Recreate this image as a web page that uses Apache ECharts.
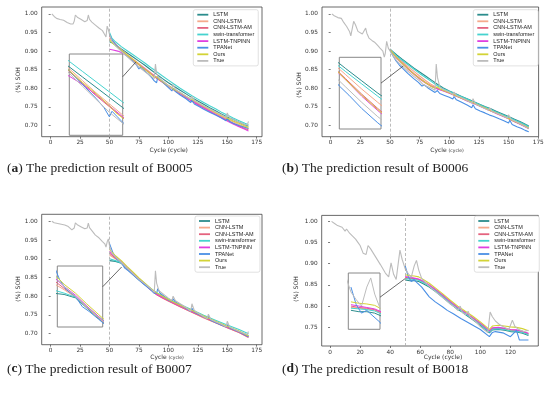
<!DOCTYPE html>
<html><head><meta charset="utf-8">
<script src="https://cdn.jsdelivr.net/npm/echarts@6/dist/echarts.min.js"></script>
<style>html,body{margin:0;padding:0;background:#fff}#c{width:550px;height:394px}</style>
</head><body><div id="c"></div>
<script>
// ---------- names / ticks ----------
const seriesNames = ['LSTM','CNN-LSTM','CNN-LSTM-AM','swin-transformer','LSTM-TNPINN','TPANet','Ours','True'];
const xTicksLong = [0,25,50,75,100,125,150,175];
const xTicksShort = [0,20,40,60,80,100,120];
const yTicksMain = [0.70,0.75,0.80,0.85,0.90,0.95,1.00];
const yTicksD = [0.75,0.80,0.85,0.90,0.95,1.00];
const splitCycle = 50;
const captions = ['The prediction result of B0005','The prediction result of B0006','The prediction result of B0007','The prediction result of B0018'];

// ---------- B0005 ----------
const a_LSTM = [[50,0.925],[53,0.921],[56,0.915],[60,0.906],[65,0.895],[70,0.884],[75,0.873],[80,0.862],[85,0.85],[90,0.838],[95,0.826],[100,0.815],[105,0.805],[110,0.795],[115,0.785],[120,0.775],[125,0.766],[130,0.757],[135,0.748],[140,0.74],[145,0.731],[150,0.723],[155,0.716],[160,0.709],[165,0.702],[168,0.698]];
const a_CNN = [[50,0.935],[53,0.925],[56,0.916],[60,0.904],[65,0.891],[70,0.878],[75,0.866],[80,0.854],[85,0.842],[90,0.83],[95,0.819],[100,0.808],[105,0.798],[110,0.788],[115,0.778],[120,0.768],[125,0.759],[130,0.75],[135,0.741],[140,0.733],[145,0.725],[150,0.717],[155,0.71],[160,0.703],[165,0.696],[168,0.692]];
const a_AM = [[50,0.94],[53,0.926],[56,0.914],[60,0.901],[65,0.888],[70,0.875],[75,0.863],[80,0.851],[85,0.839],[90,0.827],[95,0.816],[100,0.805],[105,0.795],[110,0.785],[115,0.775],[120,0.765],[125,0.756],[130,0.747],[135,0.738],[140,0.73],[145,0.722],[150,0.714],[155,0.706],[160,0.699],[165,0.692],[168,0.688]];
const a_swin = [[50,0.95],[52,0.935],[55,0.925],[60,0.912],[65,0.901],[70,0.89],[75,0.879],[80,0.868],[85,0.856],[90,0.845],[95,0.833],[100,0.822],[105,0.811],[110,0.8],[115,0.79],[120,0.78],[125,0.771],[130,0.762],[135,0.753],[140,0.745],[145,0.736],[150,0.728],[155,0.72],[160,0.713],[165,0.706],[168,0.702]];
const a_TNPINN = [[50,0.905],[53,0.903],[57,0.9],[60,0.896],[65,0.887],[70,0.876],[75,0.864],[80,0.852],[85,0.84],[90,0.828],[95,0.817],[100,0.806],[105,0.796],[110,0.786],[115,0.776],[120,0.766],[125,0.757],[130,0.748],[135,0.739],[140,0.73],[145,0.721],[150,0.712],[155,0.704],[160,0.697],[165,0.69],[168,0.685]];
const a_TPA = [[50,0.945],[52,0.93],[55,0.918],[58,0.908],[62,0.896],[66,0.884],[70,0.872],[73,0.862],[75,0.852],[76,0.858],[78,0.852],[80,0.846],[83,0.838],[86,0.828],[88,0.82],[90,0.815],[91,0.832],[93,0.824],[96,0.814],[100,0.802],[103,0.793],[104,0.8],[106,0.791],[110,0.782],[115,0.772],[119,0.762],[120,0.768],[122,0.758],[126,0.751],[130,0.744],[135,0.736],[140,0.728],[145,0.72],[149,0.713],[150,0.72],[152,0.711],[156,0.705],[160,0.7],[164,0.696],[168,0.692]];
const a_Ours = [[50,0.93],[53,0.92],[56,0.912],[60,0.902],[65,0.889],[70,0.877],[75,0.864],[78,0.855],[80,0.851],[85,0.839],[88,0.83],[90,0.831],[92,0.825],[95,0.818],[100,0.807],[105,0.797],[110,0.788],[115,0.778],[120,0.77],[125,0.761],[130,0.752],[135,0.744],[140,0.735],[145,0.727],[150,0.72],[155,0.712],[160,0.706],[165,0.699],[168,0.695]];
const a_True = [[1,1.0],[3,0.993],[5,0.988],[8,0.985],[11,0.983],[14,0.977],[17,0.973],[19,0.973],[20,0.98],[21,0.997],[23,0.99],[26,0.985],[29,0.979],[31,0.982],[32,0.997],[33,0.985],[35,0.978],[38,0.97],[41,0.962],[44,0.955],[46,0.944],[47,0.938],[48,0.967],[49,0.958],[50,0.945],[52,0.927],[55,0.915],[60,0.899],[65,0.885],[70,0.871],[75,0.857],[80,0.845],[85,0.833],[88,0.826],[89,0.865],[90,0.84],[92,0.828],[96,0.818],[100,0.807],[103,0.798],[104,0.81],[106,0.797],[110,0.789],[115,0.779],[119,0.77],[120,0.779],[122,0.767],[125,0.762],[130,0.753],[135,0.745],[140,0.737],[145,0.729],[149,0.722],[150,0.734],[152,0.72],[155,0.716],[160,0.709],[165,0.703],[167,0.701],[168,0.711]];

// ---------- B0006 ----------
const b_LSTM = [[50,0.905],[53,0.897],[56,0.889],[60,0.879],[65,0.867],[70,0.855],[75,0.844],[80,0.833],[85,0.822],[90,0.811],[95,0.801],[100,0.793],[105,0.786],[110,0.779],[115,0.772],[120,0.765],[125,0.758],[130,0.751],[135,0.745],[140,0.738],[145,0.731],[150,0.724],[155,0.717],[160,0.71],[165,0.702],[167,0.699]];
const b_CNN = [[50,0.905],[53,0.894],[56,0.884],[60,0.873],[65,0.859],[70,0.846],[75,0.833],[80,0.821],[85,0.81],[90,0.801],[95,0.795],[100,0.789],[105,0.782],[110,0.775],[115,0.768],[120,0.762],[125,0.755],[130,0.748],[135,0.741],[140,0.734],[145,0.727],[150,0.72],[155,0.713],[160,0.706],[165,0.698],[167,0.695]];
const b_AM = [[50,0.905],[53,0.892],[56,0.881],[60,0.869],[65,0.854],[70,0.84],[75,0.827],[80,0.816],[85,0.806],[90,0.799],[95,0.794],[100,0.788],[105,0.781],[110,0.774],[115,0.767],[120,0.761],[125,0.754],[130,0.747],[135,0.74],[140,0.733],[145,0.726],[150,0.719],[155,0.711],[160,0.704],[165,0.696],[167,0.692]];
const b_swin = [[50,0.905],[53,0.895],[56,0.886],[60,0.876],[65,0.864],[70,0.852],[75,0.84],[80,0.829],[85,0.818],[90,0.807],[95,0.799],[100,0.792],[105,0.785],[110,0.778],[115,0.771],[120,0.764],[125,0.757],[130,0.75],[135,0.743],[140,0.736],[145,0.729],[150,0.722],[155,0.715],[160,0.708],[165,0.7],[167,0.697]];
const b_TNPINN = [[50,0.905],[53,0.891],[56,0.88],[60,0.868],[65,0.852],[70,0.838],[75,0.825],[80,0.814],[85,0.805],[90,0.798],[95,0.793],[100,0.787],[105,0.78],[110,0.773],[115,0.766],[120,0.76],[125,0.753],[130,0.746],[135,0.739],[140,0.732],[145,0.725],[150,0.718],[155,0.71],[160,0.703],[165,0.695],[167,0.691]];
const b_TPA = [[50,0.905],[52,0.89],[55,0.874],[58,0.862],[61,0.853],[65,0.84],[70,0.826],[74,0.816],[77,0.806],[79,0.809],[82,0.801],[85,0.795],[88,0.789],[90,0.794],[92,0.786],[96,0.781],[100,0.776],[103,0.771],[104,0.778],[106,0.769],[110,0.763],[115,0.755],[119,0.748],[120,0.756],[122,0.745],[126,0.739],[130,0.734],[134,0.728],[135,0.733],[137,0.725],[142,0.718],[146,0.713],[150,0.707],[151,0.714],[153,0.703],[157,0.697],[161,0.692],[164,0.687],[167,0.683]];
const b_Ours = [[50,0.905],[53,0.892],[56,0.881],[60,0.868],[65,0.853],[70,0.839],[75,0.826],[80,0.815],[85,0.805],[88,0.8],[90,0.804],[92,0.798],[95,0.794],[100,0.788],[105,0.781],[110,0.774],[115,0.767],[120,0.761],[125,0.754],[130,0.747],[135,0.74],[140,0.733],[145,0.726],[150,0.719],[155,0.711],[160,0.704],[165,0.696],[167,0.693]];
const b_True = [[1,1.0],[3,0.995],[6,0.99],[9,0.988],[11,0.977],[13.5,0.966],[16,0.952],[17,0.941],[18,0.945],[19.4,0.98],[21,0.97],[23,0.953],[26.7,0.946],[29.5,0.962],[30.5,0.948],[32.3,0.935],[35,0.928],[37.4,0.923],[40,0.914],[41.6,0.908],[44,0.9],[45.2,0.884],[46,0.893],[47.2,0.926],[48.6,0.908],[50,0.904],[53,0.885],[56,0.873],[60,0.861],[65,0.846],[70,0.832],[75,0.82],[78,0.81],[80,0.807],[85,0.8],[88,0.795],[89,0.865],[90,0.83],[92,0.803],[95,0.797],[100,0.79],[103,0.783],[104,0.79],[106,0.781],[110,0.775],[115,0.767],[119,0.76],[120,0.772],[122,0.758],[125,0.753],[130,0.746],[133,0.741],[134,0.748],[136,0.738],[140,0.733],[145,0.726],[149,0.72],[150,0.729],[152,0.717],[155,0.712],[160,0.704],[165,0.695],[167,0.692]];

// ---------- B0007 ----------
const c_LSTM = [[50,0.895],[55,0.893],[60,0.888],[65,0.873],[70,0.858],[75,0.844],[80,0.831],[85,0.818],[90,0.806],[95,0.798],[100,0.79],[110,0.775],[120,0.76],[130,0.745],[140,0.731],[150,0.718],[160,0.706],[168,0.695]];
const c_CNN = [[50,0.91],[55,0.9],[60,0.889],[65,0.874],[70,0.859],[75,0.845],[80,0.832],[85,0.818],[90,0.805],[95,0.795],[100,0.787],[110,0.772],[120,0.757],[130,0.742],[140,0.729],[150,0.716],[160,0.703],[168,0.691]];
const c_AM = [[50,0.915],[55,0.902],[60,0.89],[65,0.875],[70,0.86],[75,0.845],[80,0.831],[85,0.817],[90,0.804],[95,0.795],[100,0.787],[110,0.772],[120,0.757],[130,0.743],[140,0.729],[150,0.716],[160,0.703],[168,0.69]];
const c_swin = [[50,0.9],[55,0.895],[60,0.889],[65,0.875],[70,0.861],[75,0.847],[80,0.834],[85,0.821],[90,0.809],[95,0.801],[100,0.793],[110,0.778],[120,0.764],[130,0.749],[140,0.736],[150,0.723],[160,0.711],[168,0.7]];
const c_TNPINN = [[50,0.92],[55,0.905],[60,0.892],[65,0.876],[70,0.861],[75,0.846],[80,0.832],[85,0.818],[90,0.806],[95,0.797],[100,0.789],[110,0.774],[120,0.759],[130,0.745],[140,0.731],[150,0.718],[160,0.705],[168,0.692]];
const c_TPA = [[50,0.94],[53,0.915],[56,0.9],[60,0.89],[63,0.875],[66,0.868],[70,0.857],[75,0.843],[80,0.83],[85,0.817],[88,0.808],[90,0.808],[91,0.82],[93,0.808],[97,0.798],[100,0.79],[103,0.786],[104,0.793],[106,0.785],[110,0.777],[119,0.76],[120,0.768],[122,0.757],[130,0.745],[133,0.74],[134,0.746],[136,0.736],[140,0.73],[149,0.718],[150,0.724],[152,0.715],[160,0.705],[168,0.692]];
const c_Ours = [[50,0.925],[55,0.908],[60,0.895],[65,0.879],[70,0.864],[75,0.849],[80,0.835],[85,0.821],[90,0.809],[95,0.8],[100,0.791],[110,0.776],[120,0.762],[130,0.747],[140,0.733],[150,0.72],[160,0.707],[168,0.694]];
const c_True = [[1,1.0],[3,0.996],[6,0.994],[9,0.992],[12,0.99],[15,0.986],[18,0.977],[19,0.977],[20,0.982],[21,0.996],[23,0.99],[26,0.985],[29,0.98],[31,0.982],[32,0.995],[33,0.983],[35,0.975],[38,0.963],[41,0.956],[44,0.946],[46,0.94],[47,0.931],[48,0.945],[49,0.953],[50,0.935],[52,0.915],[55,0.905],[60,0.89],[65,0.875],[70,0.86],[75,0.845],[80,0.833],[85,0.82],[88,0.81],[89,0.868],[90,0.835],[92,0.815],[96,0.805],[100,0.795],[103,0.789],[104,0.8],[106,0.788],[110,0.78],[115,0.77],[119,0.76],[120,0.78],[122,0.762],[125,0.755],[130,0.745],[133,0.74],[134,0.752],[136,0.738],[140,0.732],[145,0.725],[149,0.718],[150,0.733],[152,0.718],[155,0.713],[160,0.706],[165,0.7],[167,0.698],[168,0.706]];

// ---------- B0018 ----------
const d_LSTM = [[50,0.862],[53,0.86],[56,0.86],[59,0.858],[62,0.853],[66,0.845],[70,0.835],[75,0.821],[80,0.806],[85,0.792],[88,0.786],[90,0.78],[95,0.768],[100,0.755],[104,0.743],[106,0.737],[108,0.744],[112,0.745],[116,0.743],[120,0.74],[124,0.739],[128,0.736],[132,0.731]];
const d_CNN = [[50,0.866],[53,0.865],[56,0.864],[59,0.862],[62,0.857],[66,0.848],[70,0.838],[75,0.824],[80,0.809],[85,0.795],[88,0.789],[90,0.783],[95,0.771],[100,0.758],[104,0.746],[106,0.74],[108,0.747],[112,0.748],[116,0.746],[120,0.743],[124,0.742],[128,0.739],[132,0.734]];
const d_AM = [[50,0.868],[53,0.866],[56,0.865],[59,0.863],[62,0.858],[66,0.849],[70,0.839],[75,0.825],[80,0.81],[85,0.796],[88,0.79],[90,0.784],[95,0.772],[100,0.759],[104,0.747],[106,0.741],[108,0.748],[112,0.749],[116,0.747],[120,0.744],[124,0.743],[128,0.74],[132,0.735]];
const d_swin = [[50,0.865],[53,0.864],[56,0.863],[59,0.861],[62,0.856],[66,0.847],[70,0.837],[75,0.823],[80,0.808],[85,0.794],[88,0.788],[90,0.782],[95,0.77],[100,0.757],[104,0.745],[106,0.739],[108,0.746],[112,0.747],[116,0.745],[120,0.742],[124,0.741],[128,0.738],[132,0.733]];
const d_TNPINN = [[50,0.87],[53,0.868],[56,0.866],[59,0.864],[62,0.859],[66,0.85],[70,0.84],[75,0.826],[80,0.811],[85,0.797],[88,0.79],[90,0.785],[95,0.773],[100,0.76],[104,0.748],[106,0.742],[108,0.749],[112,0.75],[116,0.748],[120,0.745],[124,0.744],[128,0.741],[132,0.736]];
const d_TPA = [[50,0.895],[52,0.87],[54,0.858],[56,0.862],[58,0.855],[61,0.845],[66,0.822],[70,0.81],[75,0.798],[78,0.79],[82,0.782],[87,0.771],[90,0.765],[95,0.755],[100,0.745],[106,0.728],[108,0.738],[110,0.74],[115,0.737],[120,0.728],[124,0.743],[126,0.72],[130,0.72],[132,0.72]];
const d_Ours = [[50,0.874],[53,0.872],[56,0.871],[59,0.869],[62,0.863],[66,0.854],[70,0.843],[75,0.829],[80,0.814],[85,0.8],[88,0.793],[90,0.788],[95,0.776],[100,0.763],[104,0.751],[106,0.745],[108,0.753],[112,0.755],[116,0.753],[120,0.751],[124,0.75],[128,0.747],[132,0.742]];
const d_True = [[1,1.0],[3,0.995],[5,0.99],[8,0.986],[10,0.977],[11,0.982],[13,0.972],[15,0.965],[17,0.958],[19,0.948],[20,0.943],[22,0.925],[24,0.922],[25.3,0.943],[27,0.935],[30,0.918],[33.5,0.898],[36.8,0.878],[39,0.869],[40.6,0.902],[42.3,0.875],[44,0.863],[46.5,0.932],[48,0.91],[50,0.888],[52,0.877],[54,0.868],[56,0.895],[57.5,0.908],[59,0.885],[61,0.865],[65,0.85],[70,0.835],[75,0.82],[80,0.805],[83,0.798],[85,0.79],[86.6,0.8],[88,0.785],[90,0.78],[91.9,0.788],[93,0.775],[97,0.763],[100,0.752],[103,0.743],[105,0.738],[106.5,0.786],[108,0.775],[110,0.765],[113,0.756],[116,0.75],[119,0.745],[121.3,0.767],[123,0.752],[126,0.744],[129,0.74],[132,0.743]];

// ---------- styles / layout ----------
const colors = ['#2b8c8c','#f5a98c','#e4637f','#46d3cf','#e03fe0','#4a8fe5','#d3d336','#bcbcbc'];
const panelData = [
  [a_LSTM,a_CNN,a_AM,a_swin,a_TNPINN,a_TPA,a_Ours,a_True],
  [b_LSTM,b_CNN,b_AM,b_swin,b_TNPINN,b_TPA,b_Ours,b_True],
  [c_LSTM,c_CNN,c_AM,c_swin,c_TNPINN,c_TPA,c_Ours,c_True],
  [d_LSTM,d_CNN,d_AM,d_swin,d_TNPINN,d_TPA,d_Ours,d_True]
];
const layout = [
  {grid:{left:41.7,top:7,width:220.3,height:129.7}, xr:[-7.6,179.5], yr:[0.67,1.0185], xt:xTicksLong, yt:yTicksMain,
   inset:{left:69.3,top:54,width:53.4,height:81.3,xr:[60,80],yr:[0.832,0.92],from:0.28,to:[72.5,0.871]},
   legend:{left:193.3,top:9.7}, xname:[168.7,150.7], yname:[18.3,80], cap:[7,168.5], letter:'a', small:false},
  {grid:{left:322,top:7,width:216.6,height:129.7}, xr:[-7.3,175.3], yr:[0.67,1.0185], xt:xTicksLong, yt:yTicksMain,
   inset:{left:339.3,top:57.3,width:41.7,height:71.7,xr:[58,71],yr:[0.82,0.89],from:0.36,to:[61.2,0.86]},
   legend:{left:473.3,top:9.7}, xname:[447,150.7], yname:[299,85], cap:[282,168.5], letter:'b', small:true},
  {grid:{left:41.7,top:214.3,width:220.3,height:130.4}, xr:[-7.6,179.5], yr:[0.6706,1.0187], xt:xTicksLong, yt:yTicksMain,
   inset:{left:57.3,top:266,width:45.4,height:61,xr:[52,72],yr:[0.845,0.935],from:0.34,to:[60.3,0.878]},
   legend:{left:195,top:216}, xname:[167,357.5], yname:[18.3,289], cap:[7,369], letter:'c', small:true},
  {grid:{left:321.7,top:215.4,width:216.6,height:130.6}, xr:[-5.55,138.55], yr:[0.706,1.014], xt:xTicksShort, yt:yTicksD,
   inset:{left:348.3,top:273,width:31.7,height:56.3,xr:[49,61],yr:[0.835,0.915],from:0.43,to:[50,0.865]},
   legend:{left:474.3,top:216}, xname:[443,357], yname:[296,289], cap:[282,369], letter:'d', small:false}
];

const tickFont = {fontFamily:'DejaVu Sans', fontSize:5.8, color:'#333'};
const grids=[], xAxes=[], yAxes=[], series=[], legends=[];
layout.forEach((L,p)=>{
  const gi = grids.length;
  grids.push(Object.assign({show:true,borderColor:'#444',borderWidth:0.8,backgroundColor:'transparent',containLabel:false,z:1}, L.grid));
  grids.push({left:L.inset.left,top:L.inset.top,width:L.inset.width,height:L.inset.height,show:true,borderColor:'#888',borderWidth:1,backgroundColor:'#fff',z:5});
  xAxes.push({type:'value',gridIndex:gi,min:L.xr[0],max:L.xr[1],splitLine:{show:false},axisLine:{show:false},
    axisTick:{show:true,length:2,customValues:L.xt,lineStyle:{color:'#444',width:0.7}},
    axisLabel:Object.assign({customValues:L.xt,margin:3,formatter:v=>String(v)},tickFont)});
  yAxes.push({type:'value',gridIndex:gi,min:L.yr[0],max:L.yr[1],splitLine:{show:false},axisLine:{show:false},
    axisTick:{show:true,length:2,customValues:L.yt,lineStyle:{color:'#444',width:0.7}},
    axisLabel:Object.assign({customValues:L.yt,margin:4,formatter:v=>v.toFixed(2)},tickFont)});
  xAxes.push({type:'value',gridIndex:gi+1,min:L.inset.xr[0],max:L.inset.xr[1],show:false,splitLine:{show:false},z:6});
  yAxes.push({type:'value',gridIndex:gi+1,min:L.inset.yr[0],max:L.inset.yr[1],show:false,splitLine:{show:false},z:6});
  panelData[p].forEach((d,k)=>{
    const s = {type:'line',name:seriesNames[k],data:d,xAxisIndex:gi,yAxisIndex:gi,symbol:'none',showSymbol:false,
      lineStyle:{color:colors[k],width:1.1},itemStyle:{color:colors[k]},z:2,clip:true,silent:true};
    if (k===7) s.markLine = {silent:true,symbol:'none',label:{show:false},lineStyle:{color:'#aaa',type:[3,2],width:0.8},data:[{xAxis:splitCycle}]};
    series.push(s);
    series.push({type:'line',name:seriesNames[k],data:d,xAxisIndex:gi+1,yAxisIndex:gi+1,symbol:'none',showSymbol:false,
      lineStyle:{color:colors[k],width:1},itemStyle:{color:colors[k]},z:7,clip:true,silent:true});
  });
  legends.push({data:seriesNames.map(n=>({name:n,icon:'rect'})),orient:'vertical',left:L.legend.left,top:L.legend.top,selectedMode:false,
    itemWidth:11,itemHeight:1.8,itemGap:0.6,padding:[2,4,2,4],borderColor:'#ccc',borderWidth:0.6,borderRadius:2,
    backgroundColor:'#fff',itemStyle:{borderWidth:0},lineStyle:{width:0},
    textStyle:{fontFamily:'Liberation Sans',fontSize:5.5,lineHeight:6,color:'#222'}});
});

const chart = echarts.init(document.getElementById('c'),null,{renderer:'canvas'});
chart.setOption({animation:false,backgroundColor:'#fff',grid:grids,xAxis:xAxes,yAxis:yAxes,series:series,legend:legends});

const gfx=[];
layout.forEach((L,p)=>{
  const ins=L.inset;
  const t = chart.convertToPixel({gridIndex:2*p}, ins.to);
  gfx.push({type:'line',shape:{x1:ins.left+ins.width,y1:ins.top+ins.height*ins.from,x2:t[0],y2:t[1]},style:{stroke:'#444',lineWidth:0.8},z:20});
  gfx.push({type:'text',x:L.xname[0],y:L.xname[1],style:{text:L.small?'Cycle {s|(cycle)}':'Cycle (cycle)',align:'center',verticalAlign:'middle',
    font:'6px "DejaVu Sans"',fill:'#333',rich:{s:{fontSize:4.5,fontFamily:'DejaVu Sans',fill:'#333'}}},z:20});
  gfx.push({type:'text',x:L.yname[0],y:L.yname[1],rotation:Math.PI/2,style:{text:'(%) SOH',align:'center',verticalAlign:'middle',
    font:'6px "DejaVu Sans"',fill:'#333'},z:20});
  gfx.push({type:'text',x:L.cap[0],y:L.cap[1],style:{text:'({b|'+L.letter+'}) '+captions[p],align:'left',verticalAlign:'middle',
    font:'13.5px "Liberation Serif"',fill:'#222',rich:{b:{fontWeight:'bold',fontSize:13.5,fontFamily:'Liberation Serif',fill:'#222'}}},z:20});
});
chart.setOption({graphic:gfx});
</script></body></html>
